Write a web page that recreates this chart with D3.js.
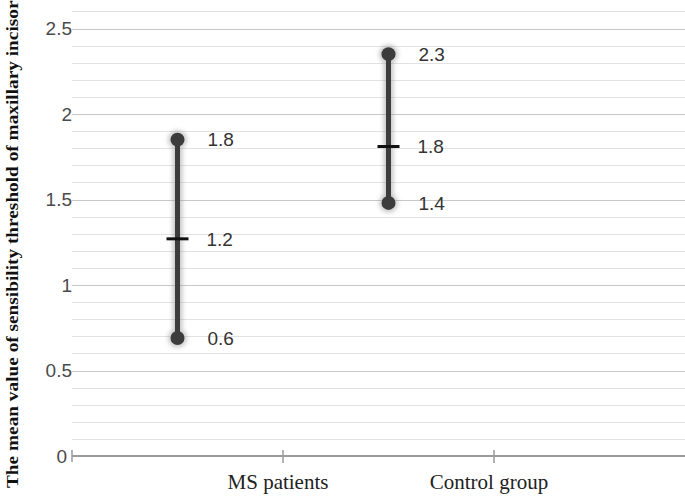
<!DOCTYPE html>
<html>
<head>
<meta charset="utf-8">
<script src="https://cdn.jsdelivr.net/npm/d3@7"></script>
<style>
  body { margin: 0; background: #fff; }
  svg { display: block; }
</style>
</head>
<body>
<svg id="main" width="685" height="498"></svg>
<script>
// data
var groups = ["MS patients", "Control group"];
var highs = [1.85, 2.35];
var means = [1.27, 1.81];
var lows = [0.69, 1.48];
var highLabels = ["1.8", "2.3"];
var meanLabels = ["1.2", "1.8"];
var lowLabels = ["0.6", "1.4"];
var yTicks = [0, 0.5, 1, 1.5, 2, 2.5];

var svg = d3.select("#main");

// third empty band keeps the spacing of the original
var x = d3.scaleBand()
    .domain(groups.concat([" "]))
    .range([72, 705])
    .padding(0);
var y = d3.scaleLinear().domain([0, 2.6]).range([456, 11.4]);
var bw = x.bandwidth();

// glow filter
var defs = svg.append("defs");
defs.append("filter").attr("id", "glow")
    .attr("x", "-50%").attr("y", "-50%").attr("width", "200%").attr("height", "200%")
  .append("feGaussianBlur").attr("stdDeviation", 2.2);

// grid lines every 0.1
var minor = d3.range(1, 27).map(function(i){ return i / 10; });
svg.append("g").selectAll("line")
    .data(minor)
    .enter().append("line")
    .attr("x1", 72).attr("x2", 685)
    .attr("y1", function(d){ return Math.round(y(d)) + 0.5; })
    .attr("y2", function(d){ return Math.round(y(d)) + 0.5; })
    .attr("stroke", function(d){ return Math.abs(d * 2 - Math.round(d * 2)) < 1e-6 ? "#c8c8c8" : "#e2e2e2"; })
    .attr("stroke-width", 1);

// y tick labels
svg.append("g").selectAll("text")
    .data(yTicks)
    .enter().append("text")
    .attr("x", function(d){ return d === 0 ? 67 : 72; })
    .attr("y", function(d){ return y(d); })
    .attr("dy", "0.36em")
    .attr("text-anchor", "end")
    .style("font-family", "Liberation Sans, Arial, sans-serif")
    .style("font-size", "19px")
    .style("fill", "#4a4a4a")
    .text(function(d){ return d; });

// x axis
var axis = svg.append("g");
axis.append("line")
    .attr("x1", 72).attr("x2", 685)
    .attr("y1", y(0)).attr("y2", y(0))
    .attr("stroke", "#9a9a9a").attr("stroke-width", 2);
axis.append("line")
    .attr("x1", 72).attr("x2", 72)
    .attr("y1", y(0) - 6).attr("y2", y(0) + 6)
    .attr("stroke", "#9a9a9a").attr("stroke-width", 1.5);
axis.selectAll(".tick")
    .data(groups)
    .enter().append("line")
    .attr("class", "tick")
    .attr("x1", function(d){ return x(d) + bw; })
    .attr("x2", function(d){ return x(d) + bw; })
    .attr("y1", y(0) - 6).attr("y2", y(0) + 7)
    .attr("stroke", "#9a9a9a").attr("stroke-width", 1.5);
axis.selectAll(".lab")
    .data(groups)
    .enter().append("text")
    .attr("class", "lab")
    .attr("x", function(d){ return x(d) + bw - 5; })
    .attr("y", 489)
    .attr("text-anchor", "middle")
    .style("font-family", "Liberation Serif, Times New Roman, serif")
    .style("font-size", "21px")
    .style("fill", "#222")
    .text(function(d){ return d; });

// y axis title
svg.append("text")
    .attr("transform", "translate(18,488) rotate(-90)")
    .attr("text-anchor", "start")
    .attr("textLength", 495)
    .attr("lengthAdjust", "spacingAndGlyphs")
    .style("font-family", "Liberation Serif, Times New Roman, serif")
    .style("font-weight", "bold")
    .style("font-size", "17px")
    .style("fill", "#111")
    .text("The mean value of sensibility threshold of maxillary incisors");

// error bars
var idx = d3.range(groups.length);
function cx(i){ return x(groups[i]) + bw / 2; }

function drawBars(g, col, extra) {
    g.selectAll(".stem").data(idx).enter().append("line")
        .attr("x1", cx).attr("x2", cx)
        .attr("y1", function(i){ return y(highs[i]); })
        .attr("y2", function(i){ return y(lows[i]); })
        .attr("stroke", col).attr("stroke-width", 5 + extra);
    g.selectAll(".hi").data(idx).enter().append("circle")
        .attr("cx", cx).attr("cy", function(i){ return y(highs[i]); })
        .attr("r", 7 + extra / 2).attr("fill", col);
    g.selectAll(".lo").data(idx).enter().append("circle")
        .attr("cx", cx).attr("cy", function(i){ return y(lows[i]); })
        .attr("r", 7 + extra / 2).attr("fill", col);
}

drawBars(svg.append("g").attr("filter", "url(#glow)").attr("opacity", 0.45), "#888", 5);
drawBars(svg.append("g"), "#3c3c3c", 0);

// mean markers
svg.append("g").selectAll("line")
    .data(idx).enter().append("line")
    .attr("x1", function(i){ return cx(i) - 11; })
    .attr("x2", function(i){ return cx(i) + 11; })
    .attr("y1", function(i){ return y(means[i]); })
    .attr("y2", function(i){ return y(means[i]); })
    .attr("stroke", "#111").attr("stroke-width", 3);

// value labels
function addLabels(vals, labs, dx) {
    svg.append("g").selectAll("text")
        .data(idx).enter().append("text")
        .attr("x", function(i){ return cx(i) + dx; })
        .attr("y", function(i){ return y(vals[i]); })
        .attr("dy", "0.36em")
        .style("font-family", "Liberation Sans, Arial, sans-serif")
        .style("font-size", "19px")
        .style("fill", "#333")
        .text(function(i){ return labs[i]; });
}
addLabels(highs, highLabels, 30);
addLabels(means, meanLabels, 29);
addLabels(lows, lowLabels, 30);
</script>
</body>
</html>
